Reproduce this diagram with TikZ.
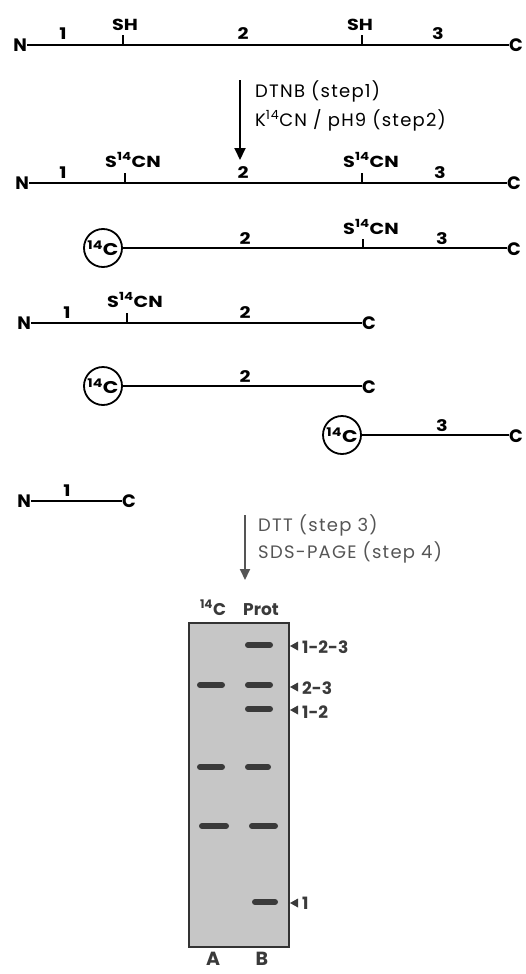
\documentclass[tikz,border=0pt]{standalone}
\usepackage{fontspec}
\setmainfont{Poppins}
\newfontfamily\labfont[FakeStretch=1.2]{Poppins}
\newfontfamily\stepfont[LetterSpace=7]{Poppins}
\usetikzlibrary{arrows.meta}
\newcommand\isot{\textsuperscript{14}}
\definecolor{gelfill}{HTML}{C6C6C6}
\definecolor{gelline}{HTML}{333333}
\definecolor{bandc}{HTML}{3A3A3A}
\definecolor{stepgray}{HTML}{555555}
\tikzset{
  term/.style={font=\bfseries\fontsize{18}{18}\selectfont, inner sep=0pt},
  num/.style={font=\labfont\bfseries\fontsize{16}{16}\selectfont, inner sep=0pt, anchor=base},
  site/.style={font=\labfont\bfseries\fontsize{16}{16}\selectfont, inner sep=0pt, anchor=base west},
  chain/.style={line width=2.7pt},
  cys/.style={line width=1.3pt},
  ctag/.style={circle, draw, line width=1.8pt, minimum size=38pt, inner sep=0pt,
               font=\labfont\bfseries\fontsize{17}{17}\selectfont},
  steptxt/.style={font=\stepfont\fontsize{18}{18}\selectfont, inner sep=0pt, anchor=base west},
  band/.style={line width=6pt, line cap=round, draw=bandc},
  gelarrow/.style={fill=bandc},
  gellab/.style={font=\bfseries\fontsize{17}{17}\selectfont, text=bandc, inner sep=0pt, anchor=base west},
  lanelab/.style={font=\bfseries\fontsize{19}{19}\selectfont, text=bandc, anchor=north, inner sep=0pt},
}
\begin{document}
\begin{tikzpicture}[x=1pt, y=-1pt]
\useasboundingbox (0,0) rectangle (525,974);

% ---- intact chain with two free SH groups
\node[term, anchor=east] (n1) at (27,45) {N};
\node[term, anchor=west] (c1) at (509,45) {C};
\draw[chain] (n1.east) -- (c1.west);
\coordinate (s1a) at (123,44);
\coordinate (s1b) at (362,44);
\draw[cys] (s1a) -- ++(0,-9);
\draw[cys] (s1b) -- ++(0,-9);
\node[num] at (63,40) {1};
\node[num] at (243,40) {2};
\node[num] at (438,40) {3};
\node[num] at (125,31) {SH};
\node[num] at (360,31) {SH};

% ---- steps 1 and 2
\coordinate (a1s) at (240,80);
\coordinate (a1e) at (240,160);
\draw[line width=2pt, -{Triangle[length=12pt, width=11pt]}] (a1s) -- (a1e);
\node[steptxt] (st1) at (255,97) {DTNB (step1)};
\node[steptxt] (st2) at (255,126) {K\isot CN / pH9 (step2)};

% ---- cyanylated chain
\node[term, anchor=east] (n2) at (29,183) {N};
\node[term, anchor=west] (c2) at (507,183) {C};
\draw[chain] (n2.east) -- (c2.west);
\coordinate (s2a) at (125,182);
\coordinate (s2b) at (362,182);
\draw[cys] (s2a) -- ++(0,-9);
\draw[cys] (s2b) -- ++(0,-9);
\node[num] at (63,178) {1};
\node[num] at (243,178) {2};
\node[num] at (440,178) {3};
\node[site] at (105,167) {S\isot CN};
\node[site] at (343,167) {S\isot CN};

% ---- fragment 2-3
\node[ctag] (k3) at (103,248) {\isot C};
\node[term, anchor=west] (c3) at (507,249) {C};
\draw[chain] (k3) -- (k3 -| c3.west);
\coordinate (s3b) at (363,248);
\draw[cys] (s3b) -- ++(0,-9);
\node[num] at (245,244) {2};
\node[num] at (442,244) {3};
\node[site] at (343,234) {S\isot CN};

% ---- fragment 1-2
\node[term, anchor=east] (n4) at (31,323) {N};
\node[term, anchor=west] (c4) at (362,323) {C};
\draw[chain] (n4.east) -- (c4.west);
\coordinate (s4a) at (127,322);
\draw[cys] (s4a) -- ++(0,-9);
\node[num] at (67,318) {1};
\node[num] at (245,318) {2};
\node[site] at (107,307) {S\isot CN};

% ---- fragment 2
\node[ctag] (k5) at (103,386) {\isot C};
\node[term, anchor=west] (c5) at (362,387) {C};
\draw[chain] (k5) -- (k5 -| c5.west);
\node[num] at (245,382) {2};

% ---- fragment 3
\node[ctag] (k6) at (342,435) {\isot C};
\node[term, anchor=west] (c6) at (509,436) {C};
\draw[chain] (k6) -- (k6 -| c6.west);
\node[num] at (442,431) {3};

% ---- fragment 1
\node[term, anchor=east] (n7) at (31,501) {N};
\node[term, anchor=west] (c7) at (122,501) {C};
\draw[chain] (n7.east) -- (c7.west);
\node[num] at (67,496) {1};

% ---- steps 3 and 4
\coordinate (a2s) at (245,515);
\coordinate (a2e) at (245,580);
\draw[stepgray, line width=2pt, -{Triangle[length=11pt, width=10pt]}] (a2s) -- (a2e);
\node[steptxt, text=stepgray] (st3) at (258,531) {DTT (step 3)};
\node[steptxt, text=stepgray] (st4) at (258,558) {SDS-PAGE (step 4)};

% ---- gel
\node[draw=gelline, fill=gelfill, line width=2pt, minimum width=100pt,
      minimum height=324pt, inner sep=0pt] (gel) at (239,785) {};
\node[gellab, anchor=base] (hA) at (213,615) {\isot C};
\node[gellab, anchor=base] (hB) at (261,615) {Prot};

\draw[band] (200,685) -- (222,685);
\draw[band] (200,767) -- (222,767);
\draw[band] (202,826) -- (226,826);

\draw[band] (248,645) -- (270,645);
\draw[band] (248,685) -- (270,685);
\draw[band] (248,709) -- (270,709);
\draw[band] (248,767) -- (268,767);
\draw[band] (252,826) -- (275,826);
\draw[band] (255,902) -- (275,902);

\fill[gelarrow] (290,646) -- ++(8,-4.5) -- ++(0,9) -- cycle;
\fill[gelarrow] (290,687) -- ++(8,-4.5) -- ++(0,9) -- cycle;
\fill[gelarrow] (290,710) -- ++(8,-4.5) -- ++(0,9) -- cycle;
\fill[gelarrow] (290,903) -- ++(8,-4.5) -- ++(0,9) -- cycle;
\node[gellab] at (302,653) {1-2-3};
\node[gellab] at (302,694) {2-3};
\node[gellab] at (302,718) {1-2};
\node[gellab] at (302,909) {1};

\node[lanelab] (la) at (213,952) {A};
\node[lanelab] (lb) at (262,952) {B};
\end{tikzpicture}
\end{document}
